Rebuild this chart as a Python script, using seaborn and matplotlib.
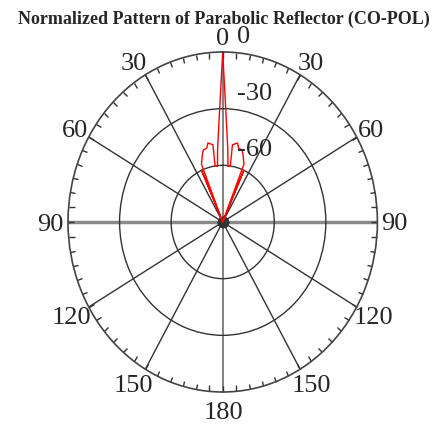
import numpy as np
import pandas as pd
import matplotlib
matplotlib.use("Agg")
import matplotlib.pyplot as plt
import seaborn as sns

# one half of the CO-POL pattern (degrees from boresight, dB), mirrored below
half_angle = [0, 0.46, 1.08, 1.93, 3.2, 4.5, 5.9, 8.5, 7.9, 11.6, 13.4, 16.5,
              18.5, 22.0, 23.2, 24.2, 25.8]
half_db = [0, -11, -22, -33, -44, -52, -60.4, -60, -48.7, -47.3, -49.9, -50.2,
           -52.6, -57, -90, -60, -90]

theta_ticks = [0, 30, 60, 90, 120, 150, 180, 210, 240, 270, 300, 330]
theta_labels = ["0", "30", "60", "90", "120", "150", "180", "150", "120", "90", "60", "30"]
r_ticks = [0, -30, -60]
r_labels = ["0", "-30", "-60"]

ang = np.array(half_angle)
db = np.array(half_db)
data = pd.DataFrame({
    "theta": np.deg2rad(np.concatenate([-ang[::-1], ang])),
    "db": np.concatenate([db[::-1], db]),
})

sns.set_style("white")
plt.rcParams["font.family"] = ["Liberation Serif", "DejaVu Serif"]

fig = plt.figure(figsize=(4.39, 4.26), dpi=100)
ax = fig.add_axes([68 / 439, 34 / 426, 309.4 / 439, 340 / 426], projection="polar")
ax.set_aspect("auto")
ax.set_theta_zero_location("N")
ax.set_theta_direction(-1)

sns.lineplot(data=data, x="theta", y="db", ax=ax, sort=False, estimator=None,
             color="red", linewidth=1.0)
ax.set_xlabel("")
ax.set_ylabel("")

ax.set_rlim(-90, 0)
ax.set_yticks([-60, -30])
ax.set_yticklabels([])
ax.set_xticks(np.deg2rad(theta_ticks))
ax.set_xticklabels([])
ax.set_xticks(np.deg2rad(np.arange(0, 360, 5)), minor=True)
# theta ticks: "top" is the outer circle in a polar axes
ax.tick_params(axis="x", which="both", direction="in", length=4, width=1,
               color="#333333", bottom=True, top=True)
ax.grid(True, color="#333333", linewidth=1.0)
gl = ax.xaxis.get_gridlines()
for i in (3, 9):
    gl[i].set_color("#8a8a8a")
    gl[i].set_linewidth(2.5)
for i in (0, 6):
    gl[i].set_color("#777777")
    gl[i].set_linewidth(1.3)
ax.spines["polar"].set_color("#444444")
ax.spines["polar"].set_linewidth(1.2)

# label placement: (ha, va, dx, dy) in pixels
place = {
    0: ("center", "baseline", 0, 7),
    30: ("left", "baseline", -2, 5), 330: ("right", "baseline", 2, 5),
    60: ("left", "baseline", 1, 0), 300: ("right", "baseline", -1, 0),
    90: ("left", "center_baseline", 4, 0), 270: ("right", "center_baseline", -4, 0),
    120: ("left", "top", -3, 0), 240: ("right", "top", 3, 0),
    150: ("left", "top", -8, -6), 210: ("right", "top", 8, -6),
    180: ("center", "top", 1, -10),
}
for t, lab in zip(theta_ticks, theta_labels):
    ha, va, dx, dy = place[t]
    ax.annotate(lab, xy=(np.deg2rad(t), 0), xytext=(dx, dy), textcoords="offset pixels",
                ha=ha, va=va, fontsize=19, annotation_clip=False)

for r, lab in zip(r_ticks, r_labels):
    ax.annotate(lab, xy=(0, r), xytext=(14, 9), textcoords="offset pixels",
                ha="left", va="baseline", fontsize=19, annotation_clip=False)

fig.text(0.51, 1 - 24 / 426, "Normalized Pattern of Parabolic Reflector (CO-POL)",
         ha="center", va="baseline", fontsize=13, fontweight="bold")

fig.savefig("out.png", dpi=100)
